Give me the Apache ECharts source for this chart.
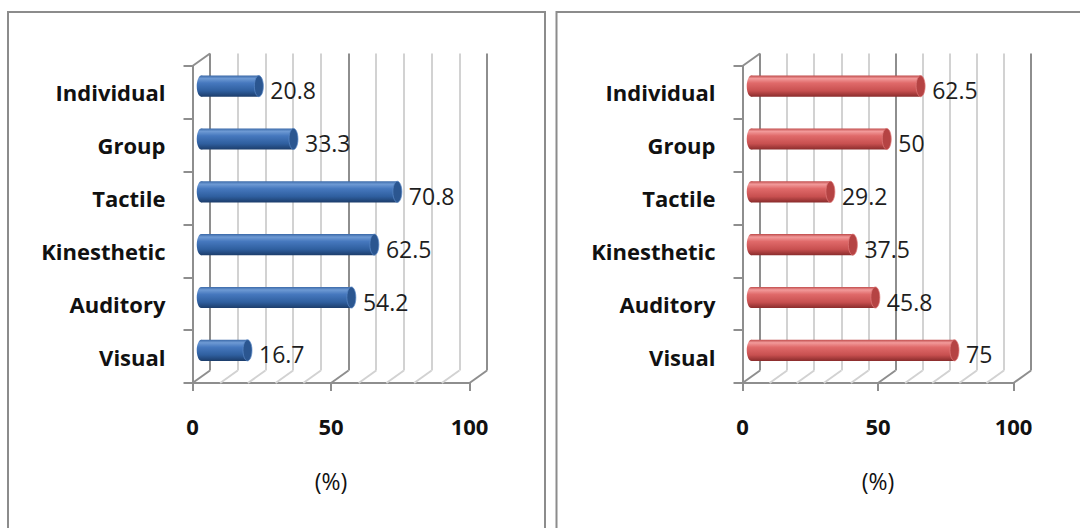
<!DOCTYPE html>
<html>
<head>
<meta charset="utf-8">
<script src="https://cdn.jsdelivr.net/npm/echarts@6/dist/echarts.min.js"></script>
<style>
  html, body { margin: 0; padding: 0; background: #ffffff; overflow: hidden; }
  #chart { width: 1080px; height: 528px; }
</style>
</head>
<body>
<div id="chart"></div>
<script>
// Learning-style preferences, two groups (percent of respondents)
const categories = ['Individual', 'Group', 'Tactile', 'Kinesthetic', 'Auditory', 'Visual'];
const leftValues = [20.8, 33.3, 70.8, 62.5, 54.2, 16.7];
const rightValues = [62.5, 50, 29.2, 37.5, 45.8, 75];
const valueTicks = [0, 50, 100];
const wallTicks = [0, 10, 20, 30, 40, 50, 60, 70, 80, 90, 100];
const axisName = '(%)';

const FONT = '"Open Sans", "DejaVu Sans", sans-serif';
const MAJOR = '#8e8e8e';
const MINOR = '#d2d2d2';

const BLUE = {
  body: [[0, '#3b69a8'], [0.14, '#6e9ad4'], [0.35, '#4678be'], [0.72, '#2f5f9f'], [1, '#1c3d6b']],
  cap: '#2b5690', rim: '#5a88c6'
};
const RED = {
  body: [[0, '#c04c4c'], [0.14, '#f29a9a'], [0.35, '#e06a6a'], [0.72, '#c85050'], [1, '#8a2c2c']],
  cap: '#b54343', rim: '#e07a7a'
};

// Oblique 3D box: front plane, bars at mid depth, back wall behind
const panels = [
  { values: leftValues, palette: BLUE, left: 192.5, width: 277, box: { x: 8, y: 12, w: 537 } },
  { values: rightValues, palette: RED, left: 742.5, width: 271, box: { x: 556.5, y: 12, w: 600 } }
];
const TOP = 66, HEIGHT = 317, DX = 17.5, DY = -12.5;

const grid = [], xAxis = [], yAxis = [], series = [], graphic = [];

panels.forEach((p, k) => {
  const g0 = k * 3;
  // front, middle, back planes
  grid.push({ left: p.left, top: TOP, width: p.width, height: HEIGHT });
  grid.push({ left: p.left + DX / 2, top: TOP + DY / 2, width: p.width, height: HEIGHT });
  grid.push({ left: p.left + DX, top: TOP + DY, width: p.width, height: HEIGHT });

  xAxis.push({
    gridIndex: g0, type: 'value',
    min: valueTicks[0], max: valueTicks[valueTicks.length - 1], interval: valueTicks[1] - valueTicks[0],
    axisLine: { show: true, lineStyle: { color: MAJOR, width: 2 } },
    axisTick: { show: true, length: 8, lineStyle: { color: MAJOR, width: 2 } },
    axisLabel: { margin: 32, fontFamily: FONT, fontWeight: 'bold', fontSize: 22, color: '#111' },
    splitLine: { show: false },
    name: axisName, nameLocation: 'middle', nameGap: 86,
    nameTextStyle: { fontFamily: FONT, fontSize: 23, color: '#111' }
  });
  xAxis.push({ gridIndex: g0 + 1, type: 'value', min: 0, max: 100, show: false });
  xAxis.push({
    gridIndex: g0 + 2, type: 'value', min: 0, max: 100, interval: 10,
    axisLine: { show: false }, axisTick: { show: false }, axisLabel: { show: false },
    splitLine: { show: true, showMinLine: true, showMaxLine: true,
      lineStyle: { color: [MAJOR, MINOR, MINOR, MINOR, MINOR], width: 2 } }
  });

  yAxis.push({
    gridIndex: g0, type: 'category', data: categories, inverse: true,
    axisLine: { show: true, lineStyle: { color: MAJOR, width: 2 } },
    axisTick: { show: true, length: 9, lineStyle: { color: MAJOR, width: 2 } },
    axisLabel: { margin: 27, padding: [6, 0, 0, 0], fontFamily: FONT, fontWeight: 'bold',
      fontSize: 22, color: '#111' },
    splitLine: { show: false }
  });
  yAxis.push({ gridIndex: g0 + 1, type: 'category', data: categories, inverse: true, show: false });
  yAxis.push({ gridIndex: g0 + 2, type: 'category', data: categories, inverse: true, show: false });

  // floor diagonals and the top edge of the side wall
  series.push({
    type: 'custom', xAxisIndex: g0, yAxisIndex: g0, z: 1, silent: true,
    data: wallTicks.map(v => [v, 0]),
    renderItem(params, api) {
      const v = api.value(0);
      const x = api.coord([v, 0])[0];
      const cs = params.coordSys;
      const yb = cs.y + cs.height;
      const color = v % 50 === 0 ? MAJOR : MINOR;
      const children = [{
        type: 'line', shape: { x1: x, y1: yb, x2: x + DX, y2: yb + DY },
        style: { stroke: color, lineWidth: 2 }
      }];
      if (v === 0) {
        children.push({
          type: 'line', shape: { x1: x, y1: cs.y, x2: x + DX, y2: cs.y + DY },
          style: { stroke: MAJOR, lineWidth: 2 }
        });
      }
      return { type: 'group', children };
    }
  });

  // cylinder bars with value labels
  series.push({
    type: 'custom', xAxisIndex: g0 + 1, yAxisIndex: g0 + 1, z: 3, silent: true,
    data: p.values.map((v, i) => [v, i]),
    encode: { x: 0, y: 1 },
    renderItem(params, api) {
      const v = api.value(0), ci = api.value(1);
      const s = api.coord([0, ci]);
      const e = api.coord([v, ci]);
      const band = api.size([0, 1])[1];
      const h = band * 0.4, r = h / 2, rx = 4.5;
      const cy = s[1];
      const grad = () => new echarts.graphic.LinearGradient(0, 0, 0, 1,
        p.palette.body.map(([o, c]) => ({ offset: o, color: c })));
      return {
        type: 'group',
        children: [
          { type: 'circle', shape: { cx: 0, cy: 0, r }, x: s[0], y: cy, scaleX: rx / r,
            style: { fill: grad() } },
          { type: 'rect', shape: { x: s[0], y: cy - r, width: e[0] - s[0], height: h },
            style: { fill: grad() } },
          { type: 'circle', shape: { cx: 0, cy: 0, r }, x: e[0], y: cy, scaleX: rx / r,
            style: { fill: p.palette.cap, stroke: p.palette.rim, lineWidth: 1 } },
          { type: 'text', x: e[0] + rx + 7, y: cy + 4,
            style: { text: String(v), fontFamily: FONT, fontSize: 23, fill: '#1e1e1e',
              align: 'left', verticalAlign: 'middle' } }
        ]
      };
    }
  });

  graphic.push({
    type: 'rect', silent: true, z: 0,
    shape: { x: p.box.x, y: p.box.y, width: p.box.w, height: 600 },
    style: { fill: 'none', stroke: '#8c8c8c', lineWidth: 2 }
  });
});

const chart = echarts.init(document.getElementById('chart'), null, { renderer: 'svg' });
chart.setOption({
  animation: false,
  backgroundColor: '#ffffff',
  grid, xAxis, yAxis, series, graphic
});
</script>
</body>
</html>
